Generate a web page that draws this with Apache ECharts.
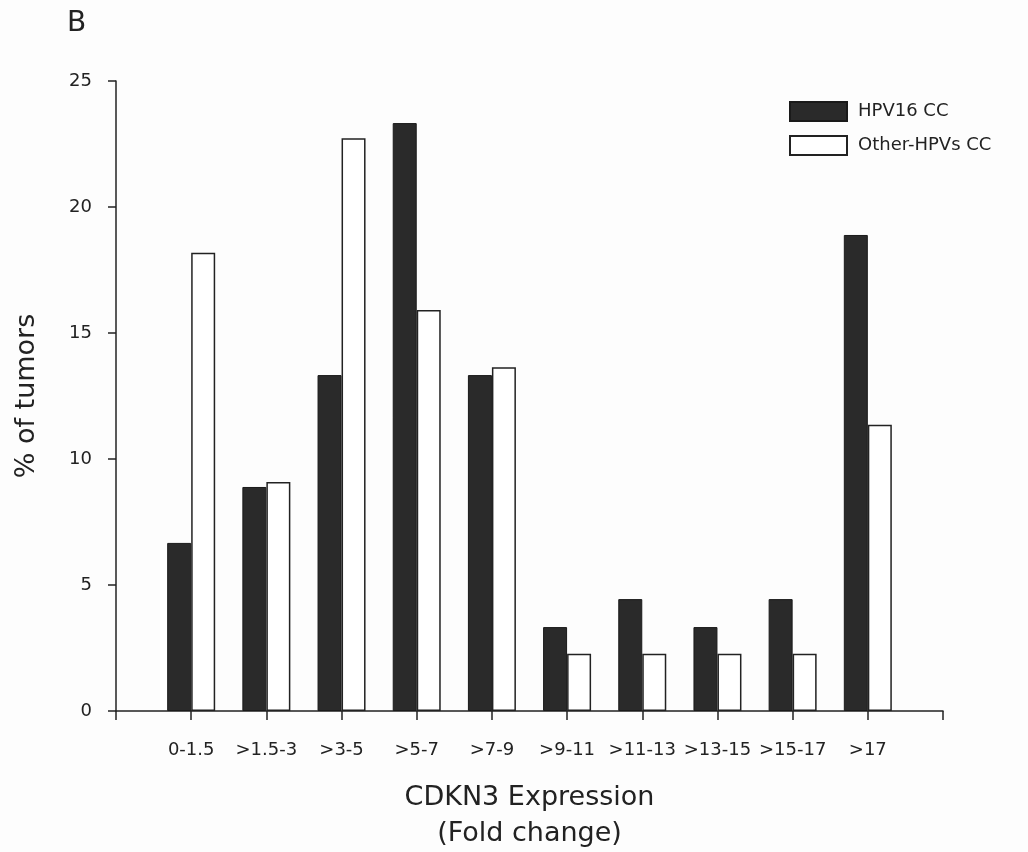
<!DOCTYPE html>
<html>
<head>
<meta charset="utf-8">
<script src="https://cdn.jsdelivr.net/npm/echarts@6/dist/echarts.min.js"></script>
<style>
html,body{margin:0;padding:0;background:#fdfdfd;}
#chart{width:1028px;height:852px;}
</style>
</head>
<body>
<div id="chart"></div>
<script>
const categories = ['0-1.5', '>1.5-3', '>3-5', '>5-7', '>7-9', '>9-11', '>11-13', '>13-15', '>15-17', '>17'];
const hpv16 = [6.67, 8.89, 13.33, 23.33, 13.33, 3.33, 4.44, 3.33, 4.44, 18.89];
const otherHpv = [18.18, 9.09, 22.73, 15.91, 13.64, 2.27, 2.27, 2.27, 2.27, 11.36];
const yTicks = { min: 0, max: 25, interval: 5 };

const FONT = 'DejaVu Sans';
const TXT = '#222';
const axisCats = [''].concat(categories, ['']);
const pad = arr => ['-'].concat(arr, ['-']);

const chart = echarts.init(document.getElementById('chart'), null, { renderer: 'canvas' });
chart.setOption({
  backgroundColor: '#fdfdfd',
  animation: false,
  textStyle: { fontFamily: FONT, color: TXT },
  graphic: [{
    type: 'text', left: 67, top: 10,
    style: { text: 'B', fontSize: 28, fontFamily: FONT, fill: TXT }
  }],
  legend: {
    orient: 'vertical', left: 784, top: 96,
    itemWidth: 57, itemHeight: 19, itemGap: 13,
    icon: 'rect',
    textStyle: { fontSize: 18, fontFamily: FONT, color: TXT, padding: [0, 0, 0, 6] },
    data: ['HPV16 CC', 'Other-HPVs CC']
  },
  grid: { left: 116, right: 85, top: 81, bottom: 141, containLabel: false, outerBoundsMode: 'none' },
  xAxis: {
    type: 'category',
    data: axisCats,
    boundaryGap: false,
    name: 'CDKN3 Expression\n(Fold change)',
    nameLocation: 'middle',
    nameGap: 69,
    nameTextStyle: { fontSize: 27, fontFamily: FONT, color: TXT, lineHeight: 36 },
    axisLine: { lineStyle: { color: '#222', width: 1.5 } },
    axisTick: { show: true, interval: 0, length: 9, lineStyle: { color: '#222', width: 1.5 } },
    axisLabel: { interval: 0, margin: 30, fontSize: 18, fontFamily: FONT, color: TXT },
    splitLine: { show: false }
  },
  yAxis: {
    type: 'value',
    min: yTicks.min, max: yTicks.max, interval: yTicks.interval,
    name: '% of tumors',
    nameLocation: 'middle',
    nameGap: 76,
    nameTextStyle: { fontSize: 27, fontFamily: FONT, color: TXT },
    axisLine: { show: true, lineStyle: { color: '#222', width: 1.5 } },
    axisTick: { show: true, length: 8, lineStyle: { color: '#222', width: 1.5 } },
    axisLabel: { margin: 24, fontSize: 18, fontFamily: FONT, color: TXT },
    splitLine: { show: false }
  },
  series: [
    {
      name: 'HPV16 CC', type: 'bar', data: pad(hpv16),
      barWidth: 24, barGap: '0%',
      itemStyle: { color: '#2a2a2a', borderColor: '#1a1a1a', borderWidth: 1 }
    },
    {
      name: 'Other-HPVs CC', type: 'bar', data: pad(otherHpv),
      barWidth: 24, barGap: '0%',
      itemStyle: { color: '#ffffff', borderColor: '#222', borderWidth: 1.5 }
    }
  ]
});
</script>
</body>
</html>
